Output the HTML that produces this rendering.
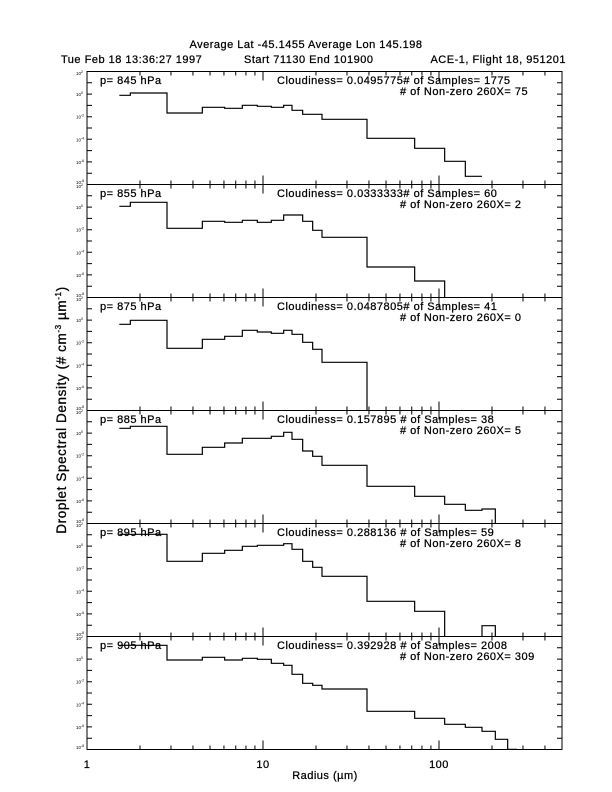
<!DOCTYPE html>
<html><head><meta charset="utf-8"><style>
html,body{margin:0;padding:0;background:#fff;}
svg{display:block;}
text{font-family:"Liberation Sans",sans-serif;fill:#000;}
.t{font-size:11px;letter-spacing:0.5px;stroke:#000;stroke-width:0.25px;}
.s{font-size:4.5px;}
</style></head><body>
<svg id="g" width="612" height="792" viewBox="0 0 612 792" xmlns="http://www.w3.org/2000/svg">
<text class="t" x="306" y="48" text-anchor="middle">Average Lat  -45.1455   Average Lon  145.198</text>
<text class="t" x="61" y="63">Tue Feb 18 13:36:27 1997</text>
<text class="t" x="244" y="63">Start  71130   End  101900</text>
<text class="t" x="566" y="63" text-anchor="end">ACE-1, Flight 18, 951201</text>

<text class="t" x="100" y="84">p= 845 hPa</text>
<text class="t" x="277" y="84">Cloudiness= 0.0495775# of Samples= 1775</text>
<text class="t" x="400" y="95">  # of Non-zero 260X= 75</text>
<text class="t" x="100" y="197">p= 855 hPa</text>
<text class="t" x="277" y="197">Cloudiness= 0.0333333# of Samples= 60</text>
<text class="t" x="400" y="208">  # of Non-zero 260X= 2</text>
<text class="t" x="100" y="310">p= 875 hPa</text>
<text class="t" x="277" y="310">Cloudiness= 0.0487805# of Samples= 41</text>
<text class="t" x="400" y="321">  # of Non-zero 260X= 0</text>
<text class="t" x="100" y="423">p= 885 hPa</text>
<text class="t" x="277" y="423">Cloudiness= 0.157895 # of Samples= 38</text>
<text class="t" x="400" y="434">  # of Non-zero 260X= 5</text>
<text class="t" x="100" y="536">p= 895 hPa</text>
<text class="t" x="277" y="536">Cloudiness= 0.288136 # of Samples= 59</text>
<text class="t" x="400" y="547">  # of Non-zero 260X= 8</text>
<text class="t" x="100" y="649">p= 905 hPa</text>
<text class="t" x="277" y="649">Cloudiness= 0.392928 # of Samples= 2008</text>
<text class="t" x="400" y="660">  # of Non-zero 260X= 309</text>

<text class="t" x="87" y="768" text-anchor="middle">1</text>
<text class="t" x="263" y="768" text-anchor="middle">10</text>
<text class="t" x="439" y="768" text-anchor="middle">100</text>
<text class="t" x="325" y="779" text-anchor="middle">Radius (µm)</text>
<text x="66" y="410" font-size="13.5" letter-spacing="0.6" stroke="#000" stroke-width="0.3" text-anchor="middle" transform="rotate(-90 66 410)">Droplet Spectral Density (# cm<tspan dy="-5" font-size="8">-3</tspan><tspan dy="5"> µm</tspan><tspan dy="-5" font-size="8">-1</tspan><tspan dy="5">)</tspan></text>
<g id="yl"></g>
<g id="ln" stroke="#000" stroke-width="1.2" fill="none"></g>
</svg>
<script>
var NS="http://www.w3.org/2000/svg";
var ln=document.getElementById('ln'),yl=document.getElementById('yl');
function P(d,w){var p=document.createElementNS(NS,'path');p.setAttribute('d',d);if(w)p.setAttribute('stroke-width',w);ln.appendChild(p);}
var x0=87,x1=562,dec=176,ph=113,top0=71.5;
var d='';
for(var i=0;i<6;i++){
 var t=top0+ph*i,b=t+ph;
 d+='M'+x0+' '+t+'H'+x1+'V'+b+'H'+x0+'Z';
 for(var k=0;k<=10;k++){var y=t+k*ph/10;d+='M'+x0+' '+y+'h5M'+x1+' '+y+'h-5';}
 for(var e=0;e<3;e++)for(var m=1;m<10;m++){var x=x0+dec*(e+Math.log10(m));if(x>x1)continue;var L=(m==1)?9:4;
  d+='M'+x+' '+t+'v'+L+'M'+x+' '+b+'v-'+L;}
}
P(d,1);
var labs=['2','0','-2','-4','-6','-8'];
for(var i=0;i<6;i++){var t=top0+ph*i;
 for(var j=0;j<6;j++){var y=t+j*ph/5+(j==0?3.5:(j==5?-0.5:2));
  var tx=document.createElementNS(NS,'text');tx.setAttribute('class','s');tx.setAttribute('x',76);tx.setAttribute('y',y);
  tx.appendChild(document.createTextNode('10'));var sp=document.createElementNS(NS,'tspan');sp.setAttribute('dy','-2');sp.setAttribute('font-size','3.5');sp.textContent=labs[j];tx.appendChild(sp);yl.appendChild(tx);}}
function X(z){return z/3+87;}
function steps(edges,vals,off,dropEnd,bottom){
 var s='M'+X(edges[0])+' '+(vals[0]/3+off);
 for(var i=0;i<vals.length;i++){var y=vals[i]/3+off;s+='V'+y+'H'+X(edges[i+1]);}
 if(dropEnd)s+='V'+bottom;
 P(s);
}
steps([97,130,240,346,413,466,511,553,590,615,647,705,840,983,1073,1135,1185],
 [82,75,135,118,121,112,115,118,112,127,139,154,211,241,280,325],68,false);
steps([97,130,240,346,413,466,511,553,590,647,677,705,840,983,1073],
 [415,403,481,460,463,457,463,457,441,460,487,508,597,639],68,true,top0+ph*2);
steps([97,130,240,346,413,466,511,553,590,615,647,677,705,840],
 [85,73,157,130,121,103,108,112,103,115,139,160,199],296,true,top0+ph*3);
steps([97,130,240,346,413,466,553,590,615,647,677,705,840,983,1073,1135,1185,1225],
 [397,391,475,454,441,427,421,409,430,465,481,508,571,601,625,643,639],296,true,top0+ph*4);
steps([97,240,346,413,466,511,590,615,647,677,705,840,983,1073],
 [37,118,94,85,73,70,65,82,118,136,163,238,268],522,true,top0+ph*5);
P('M'+X(1185)+' '+(top0+ph*5)+'V'+(311/3+522)+'H'+X(1225)+'V'+(top0+ph*5));
steps([97,240,346,413,466,511,553,590,615,647,677,705,840,983,1073,1135,1185,1225,1262,1290],
 [370,414,406,414,409,412,424,430,457,484,490,501,568,589,607,616,628,652,682],522,false);
</script>
</body></html>
